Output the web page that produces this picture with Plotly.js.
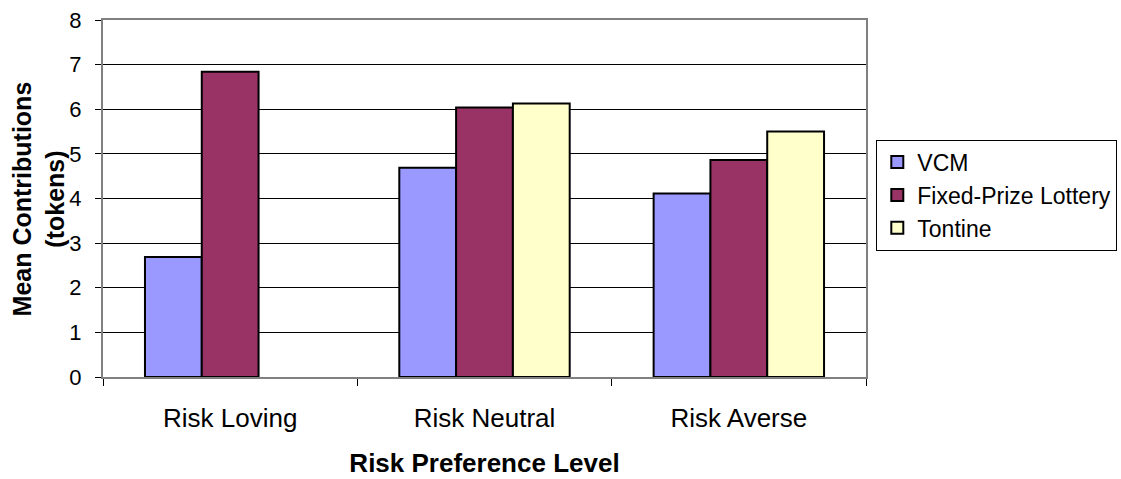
<!DOCTYPE html>
<html>
<head>
<meta charset="utf-8">
<script src="https://cdn.plot.ly/plotly-3.0.1.min.js"></script>
<style>
  html, body { margin: 0; padding: 0; background: #fff; }
  #chart { width: 1121px; height: 479px; }
</style>
</head>
<body>
<div id="chart"></div>
<script>
// Data
const categories = ["Risk Loving", "Risk Neutral", "Risk Averse"];
const seriesNames = ["VCM", "Fixed-Prize Lottery", "Tontine"];
const vcmValues = [2.69, 4.69, 4.11];
const lotteryValues = [6.84, 6.04, 4.86];
const tontineValues = [null, 6.13, 5.50];
const yTickValues = [0, 1, 2, 3, 4, 5, 6, 7, 8];
const xTitle = "Risk Preference Level";
const yTitle = "Mean Contributions<br>(tokens)";

const colors = ["#9999FF", "#993366", "#FFFFCC"];
const seriesValues = [vcmValues, lotteryValues, tontineValues];

const traces = seriesNames.map((name, i) => ({
  type: "bar",
  name: name,
  x: categories,
  y: seriesValues[i],
  legendgroup: "g" + i,
  marker: { color: colors[i], line: { color: "#000000", width: 2 } },
  hoverinfo: "x+y+name"
}));

const FONT = "Arial, 'Liberation Sans', sans-serif";

const layout = {
  width: 1121,
  height: 479,
  margin: { l: 103, r: 255, t: 20, b: 102, autoexpand: false },
  paper_bgcolor: "#ffffff",
  plot_bgcolor: "#ffffff",
  barmode: "group",
  bargap: 0.33,
  bargroupgap: 0,
  font: { family: FONT, color: "#000000", size: 20 },
  xaxis: {
    type: "category",
    tickson: "boundaries",
    ticks: "outside",
    ticklen: 7,
    tickwidth: 1,
    tickcolor: "#000000",
    showline: true,
    linecolor: "#808080",
    linewidth: 2,
    mirror: true,
    showgrid: false,
    automargin: false,
    ticklabelstandoff: 17,
    tickfont: { family: FONT, size: 26, color: "#000000" },
    title: { text: xTitle, font: { family: FONT, size: 26, color: "#000000", weight: "bold" }, standoff: 22 }
  },
  yaxis: {
    range: [0, 8],
    tickvals: yTickValues,
    ticktext: yTickValues.map(String),
    ticks: "outside",
    ticklen: 6,
    tickwidth: 1,
    tickcolor: "#000000",
    showline: true,
    linecolor: "#808080",
    linewidth: 2,
    mirror: true,
    showgrid: true,
    gridcolor: "#000000",
    gridwidth: 1,
    zeroline: false,
    automargin: false,
    ticklabelstandoff: 9,
    tickfont: { family: FONT, size: 22, color: "#000000" }
  },
  annotations: [{
    text: yTitle,
    xref: "paper", yref: "paper",
    x: -0.084, y: 0.5,
    xanchor: "center", yanchor: "middle",
    textangle: -90,
    showarrow: false,
    align: "center",
    font: { family: FONT, size: 25, color: "#000000", weight: "bold" }
  }],
  showlegend: true,
  legend: {
    x: 1.0135,
    xanchor: "left",
    y: 0.665,
    yanchor: "top",
    bordercolor: "#000000",
    borderwidth: 1,
    bgcolor: "#ffffff",
    font: { family: FONT, size: 23, color: "#000000" },
    itemwidth: 30,
    tracegroupgap: 6,
    traceorder: "normal"
  }
};

Plotly.newPlot("chart", traces, layout, { displayModeBar: false, responsive: false });
</script>
</body>
</html>
